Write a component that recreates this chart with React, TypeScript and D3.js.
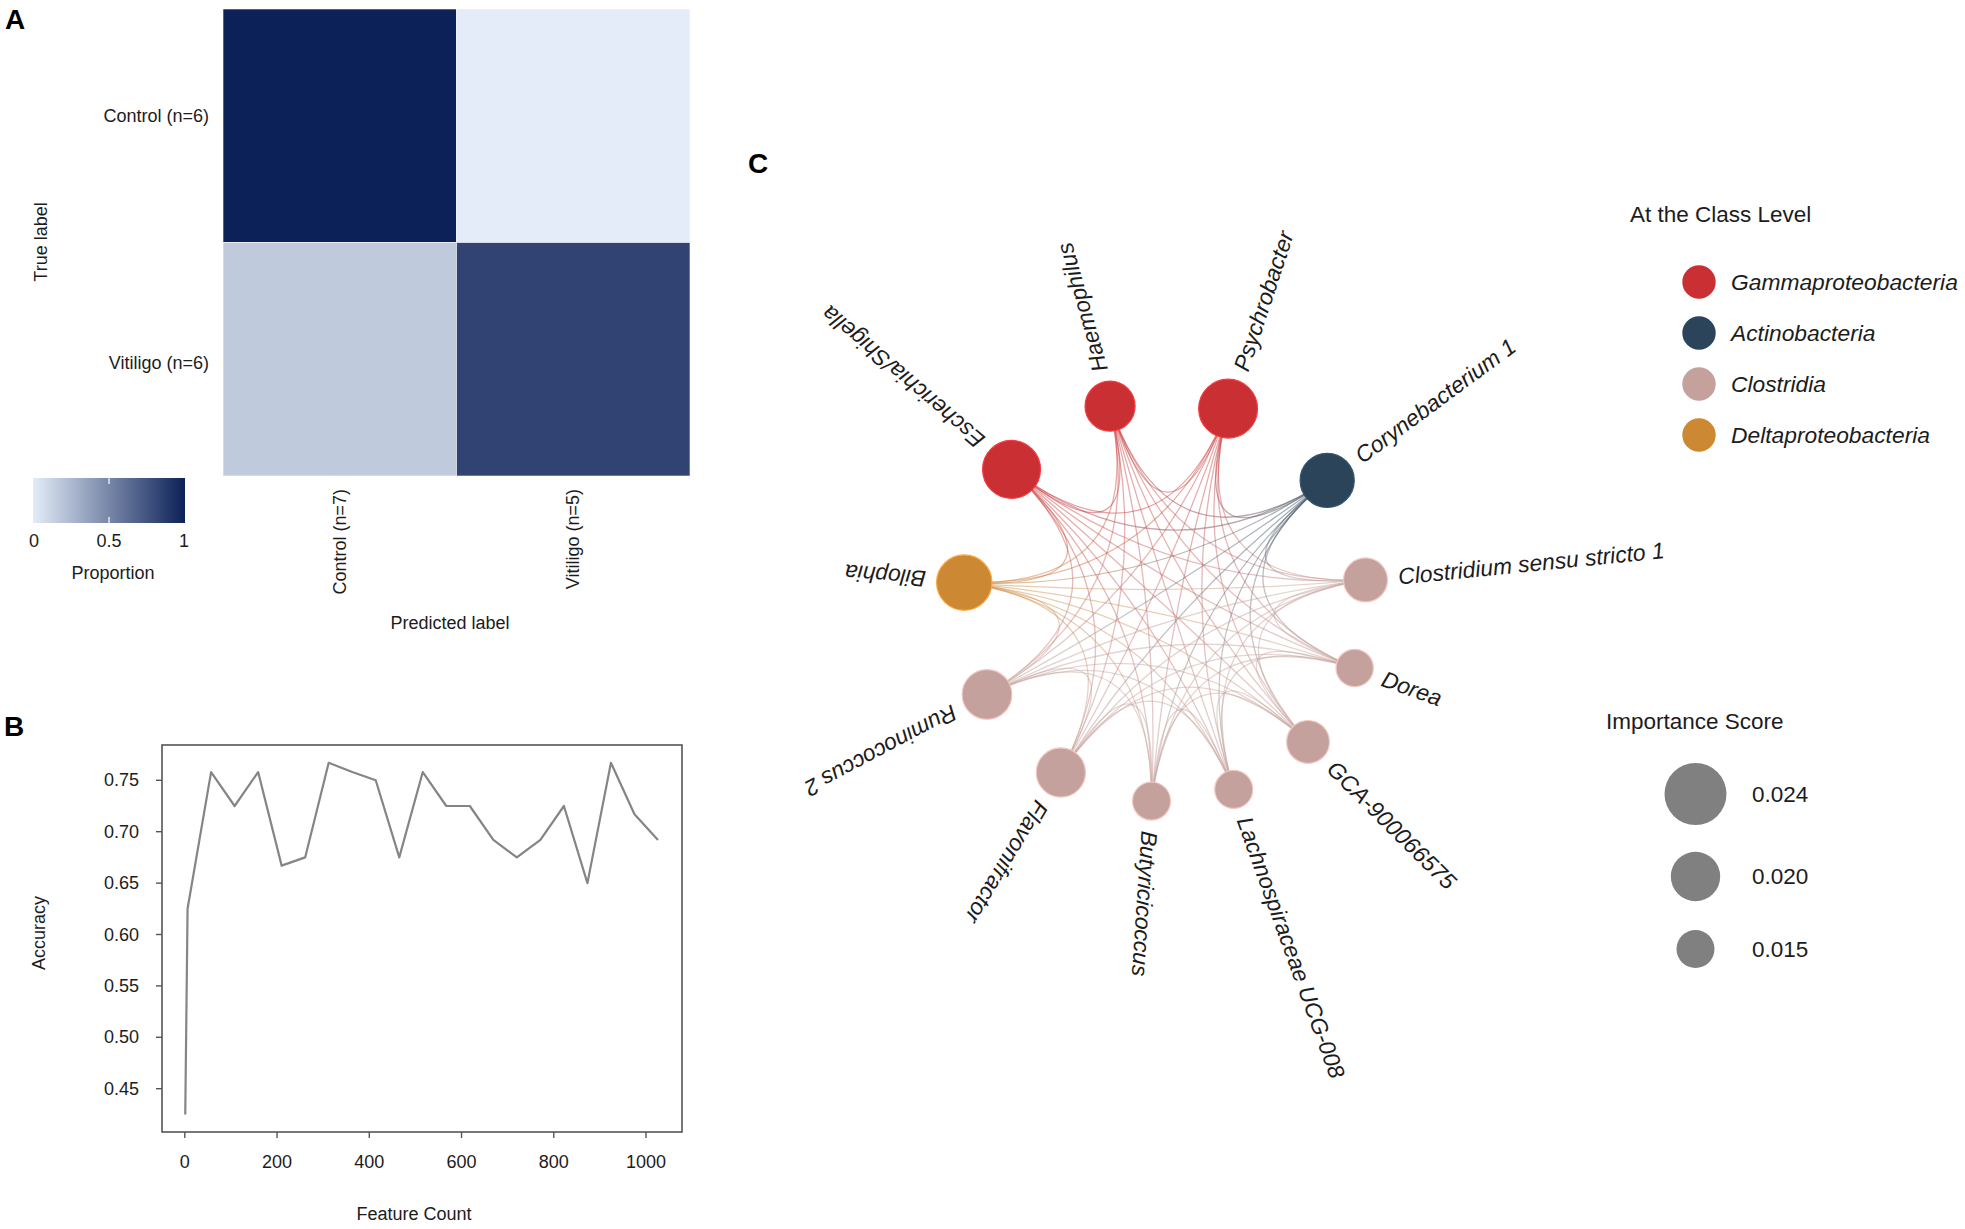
import React from 'react';
import * as d3 from 'd3';

const W = 1965;
const H = 1229;
const FONT = "'Liberation Sans', Arial, Helvetica, sans-serif";

// ---------- Panel A data ----------
const predictedLabels = ['Control (n=7)', 'Vitiligo (n=5)'];
const trueLabels = ['Control (n=6)', 'Vitiligo (n=6)'];
const controlRowProportion = [1.0, 0.0];
const vitiligoRowProportion = [0.167, 0.833];
const colorbarTicks = [0, 0.5, 1];

// ---------- Panel B data ----------
const featureCounts = [1, 6, 57, 108, 159, 210, 261, 312, 363, 414, 465, 516, 567, 618, 669, 720, 771, 822, 873, 924, 975, 1026];
const accuracy = [0.425, 0.625, 0.758, 0.725, 0.758, 0.667, 0.675, 0.767, 0.758, 0.75, 0.675, 0.758, 0.725, 0.725, 0.692, 0.675, 0.692, 0.725, 0.65, 0.767, 0.717, 0.692];
const accuracyTicks = [0.45, 0.5, 0.55, 0.6, 0.65, 0.7, 0.75];
const featureTicks = [0, 200, 400, 600, 800, 1000];

// ---------- Panel C data ----------
const genera = [
  'Escherichia/Shigella', 'Haemophilus', 'Psychrobacter', 'Corynebacterium 1',
  'Clostridium sensu stricto 1', 'Dorea', 'GCA-900066575', 'Lachnospiraceae UCG-008',
  'Butyricicoccus', 'Flavonifractor', 'Ruminococcus 2', 'Bilophia',
];
const generaClass = [
  'Gammaproteobacteria', 'Gammaproteobacteria', 'Gammaproteobacteria', 'Actinobacteria',
  'Clostridia', 'Clostridia', 'Clostridia', 'Clostridia',
  'Clostridia', 'Clostridia', 'Clostridia', 'Deltaproteobacteria',
];
const importance = [0.0227, 0.0202, 0.023, 0.0215, 0.0176, 0.0147, 0.0171, 0.015, 0.015, 0.0199, 0.0201, 0.0219];
const classNames = ['Gammaproteobacteria', 'Actinobacteria', 'Clostridia', 'Deltaproteobacteria'];
const classColors = ['#c92f33', '#2b4459', '#c4a19c', '#cd8834'];
const sizeLegendValues = [0.024, 0.02, 0.015];

export default function App() {
  // ----- Panel A scales -----
  const matrix = [controlRowProportion, vitiligoRowProportion];
  const colX = d3.scaleBand<string>().domain(predictedLabels).range([223, 690]);
  const rowY = d3.scaleBand<string>().domain(trueLabels).range([9, 476]);
  const rowLabelFrac = [0.46, 0.515];
  const heatColor = d3.scaleLinear<string>().domain([0, 1]).range(['#e3ecf8', '#0c2158']);
  const cbX = d3.scaleLinear().domain([0, 1]).range([34, 184]);

  // ----- Panel B scales -----
  const bx = d3.scaleLinear().domain([0, 1000]).range([184.8, 646]);
  const by = d3.scaleLinear().domain([0.45, 0.75]).range([1088.7, 780.3]);
  const linePath = d3
    .line<number>()
    .x((_, i) => bx(featureCounts[i]))
    .y((d) => by(d))(accuracy) as string;

  // ----- Panel C layout -----
  const rScale = d3.scaleLinear().domain([0.015, 0.02, 0.024]).range([19, 24.7, 31]);
  const classColor = d3.scaleOrdinal<string, string>().domain(classNames).range(classColors);
  const cx = 1165;
  const cy = 600;
  const R = 201.5;
  const radii = importance.map((v) => rScale(v));
  const total = d3.sum(radii) * 2;
  const startDeg = -139.6;
  const angles: number[] = [];
  let a = startDeg;
  radii.forEach((r, i) => {
    angles.push(a);
    const next = radii[(i + 1) % radii.length];
    a += (360 * (r + next)) / total;
  });
  const nodes = genera.map((g, i) => {
    const t = (angles[i] * Math.PI) / 180;
    return {
      name: g,
      color: classColor(generaClass[i]),
      r: radii[i],
      deg: angles[i],
      x: cx + R * Math.cos(t),
      y: cy + R * Math.sin(t),
      lx: cx + (R + radii[i] + 11) * Math.cos(t),
      ly: cy + (R + radii[i] + 11) * Math.sin(t),
    };
  });
  const edges: { i: number; j: number; d: string }[] = [];
  for (let i = 0; i < nodes.length; i++) {
    for (let j = i + 1; j < nodes.length; j++) {
      const p = nodes[i];
      const q = nodes[j];
      const mx = (p.x + q.x) / 2;
      const my = (p.y + q.y) / 2;
      const qx = cx + 0.12 * (mx - cx);
      const qy = cy + 0.12 * (my - cy);
      const path = d3.path();
      path.moveTo(p.x, p.y);
      path.quadraticCurveTo(qx, qy, q.x, q.y);
      edges.push({ i, j, d: path.toString() });
    }
  }

  const txt = '#1c1c1c';

  return (
    <svg
      width={W}
      height={H}
      viewBox={`0 0 ${W} ${H}`}
      style={{ position: 'absolute', left: 0, top: 0, background: '#fff', fontFamily: FONT }}
    >
      <defs>
        <linearGradient id="cbGrad" x1="0" x2="1" y1="0" y2="0">
          <stop offset="0%" stopColor={heatColor(0)} />
          <stop offset="100%" stopColor={heatColor(1)} />
        </linearGradient>
        {edges.map((e) => (
          <linearGradient
            key={`g${e.i}-${e.j}`}
            id={`eg${e.i}-${e.j}`}
            gradientUnits="userSpaceOnUse"
            x1={nodes[e.i].x}
            y1={nodes[e.i].y}
            x2={nodes[e.j].x}
            y2={nodes[e.j].y}
          >
            <stop offset="0%" stopColor={nodes[e.i].color} />
            <stop offset="100%" stopColor={nodes[e.j].color} />
          </linearGradient>
        ))}
      </defs>
      <rect x={0} y={0} width={W} height={H} fill="#fff" />

      {/* ================= Panel A ================= */}
      <text x={5} y={29} fontSize={28} fontWeight="bold" fill="#000">A</text>
      {matrix.map((row, ri) =>
        row.map((v, ci) => (
          <rect
            key={`c${ri}-${ci}`}
            x={colX(predictedLabels[ci])}
            y={rowY(trueLabels[ri])}
            width={colX.bandwidth()}
            height={rowY.bandwidth()}
            fill={heatColor(v)}
            stroke="#ffffff"
            strokeWidth={0.6}
          />
        ))
      )}
      {trueLabels.map((l, i) => (
        <text
          key={l}
          x={209}
          y={(rowY(l) as number) + rowY.bandwidth() * rowLabelFrac[i]}
          textAnchor="end"
          dominantBaseline="central"
          fontSize={18}
          fill={txt}
        >
          {l}
        </text>
      ))}
      {predictedLabels.map((l) => {
        const x = (colX(l) as number) + colX.bandwidth() / 2;
        return (
          <text
            key={l}
            transform={`translate(${x},489) rotate(-90)`}
            textAnchor="end"
            dominantBaseline="central"
            fontSize={18}
            fill={txt}
          >
            {l}
          </text>
        );
      })}
      <text transform="translate(41,242) rotate(-90)" textAnchor="middle" dominantBaseline="central" fontSize={18} fill={txt}>
        True label
      </text>
      <text x={450} y={629} textAnchor="middle" fontSize={18} fill={txt}>Predicted label</text>
      <rect x={cbX(0) - 1} y={478} width={cbX(1) - cbX(0) + 2} height={45} fill="url(#cbGrad)" />
      {colorbarTicks.filter((t) => t > 0 && t < 1).map((t) => (
        <g key={`cbt${t}`}>
          <line x1={cbX(t)} x2={cbX(t)} y1={478} y2={484} stroke="#fff" strokeWidth={1.2} />
          <line x1={cbX(t)} x2={cbX(t)} y1={517} y2={523} stroke="#fff" strokeWidth={1.2} />
        </g>
      ))}
      {colorbarTicks.map((t) => (
        <text key={`cbl${t}`} x={cbX(t)} y={541} textAnchor="middle" dominantBaseline="central" fontSize={18} fill={txt}>
          {t}
        </text>
      ))}
      <text x={113} y={579} textAnchor="middle" fontSize={18} fill={txt}>Proportion</text>

      {/* ================= Panel B ================= */}
      <text x={4} y={736} fontSize={28} fontWeight="bold" fill="#000">B</text>
      <rect x={162} y={745} width={520} height={387} fill="none" stroke="#555" strokeWidth={1.6} />
      {accuracyTicks.map((t) => (
        <g key={`yt${t}`}>
          <line x1={156} x2={162} y1={by(t)} y2={by(t)} stroke="#555" strokeWidth={1.4} />
          <text x={139} y={by(t)} textAnchor="end" dominantBaseline="central" fontSize={18} fill={txt}>
            {t.toFixed(2)}
          </text>
        </g>
      ))}
      {featureTicks.map((t) => (
        <g key={`xt${t}`}>
          <line x1={bx(t)} x2={bx(t)} y1={1132} y2={1138} stroke="#555" strokeWidth={1.4} />
          <text x={bx(t)} y={1162} textAnchor="middle" dominantBaseline="central" fontSize={18} fill={txt}>
            {t}
          </text>
        </g>
      ))}
      <path d={linePath} fill="none" stroke="#858585" strokeWidth={2.2} strokeLinejoin="round" />
      <text transform="translate(39,933) rotate(-90)" textAnchor="middle" dominantBaseline="central" fontSize={18} fill={txt}>
        Accuracy
      </text>
      <text x={414} y={1214} textAnchor="middle" dominantBaseline="central" fontSize={18} fill={txt}>Feature Count</text>

      {/* ================= Panel C ================= */}
      <text x={748} y={173} fontSize={28} fontWeight="bold" fill="#000">C</text>
      <g>
        {edges.map((e) => (
          <path
            key={`e${e.i}-${e.j}`}
            d={e.d}
            fill="none"
            stroke={`url(#eg${e.i}-${e.j})`}
            strokeOpacity={0.45}
            strokeWidth={1.3}
          />
        ))}
      </g>
      {nodes.map((n) => (
        <circle
          key={`n${n.name}`}
          cx={n.x}
          cy={n.y}
          r={n.r}
          fill={n.color}
          stroke={d3.color(n.color)!.brighter(0.6).toString()}
          strokeWidth={1.2}
        />
      ))}
      {nodes.map((n) => (
        <text
          key={`l${n.name}`}
          transform={`translate(${n.lx},${n.ly}) rotate(${n.deg})`}
          textAnchor="start"
          dominantBaseline="central"
          fontSize={22.8}
          fontStyle="italic"
          fill={txt}
        >
          {n.name}
        </text>
      ))}

      {/* Legends */}
      <text x={1630} y={214} dominantBaseline="central" fontSize={22.5} fill={txt}>At the Class Level</text>
      {classNames.map((c, i) => (
        <g key={`lg${c}`}>
          <circle cx={1699} cy={282 + i * 51} r={16.7} fill={classColor(c)} />
          <text x={1731} y={282 + i * 51} dominantBaseline="central" fontSize={22.8} fontStyle="italic" fill={txt}>
            {c}
          </text>
        </g>
      ))}
      <text x={1606} y={721} dominantBaseline="central" fontSize={22.5} fill={txt}>Importance Score</text>
      {sizeLegendValues.map((v, i) => {
        const yy = [794, 876.5, 949][i];
        return (
          <g key={`sl${v}`}>
            <circle cx={1695.5} cy={yy} r={rScale(v)} fill="#808080" />
            <text x={1752} y={yy} dominantBaseline="central" fontSize={22.5} fill={txt}>
              {v.toFixed(3)}
            </text>
          </g>
        );
      })}
    </svg>
  );
}
